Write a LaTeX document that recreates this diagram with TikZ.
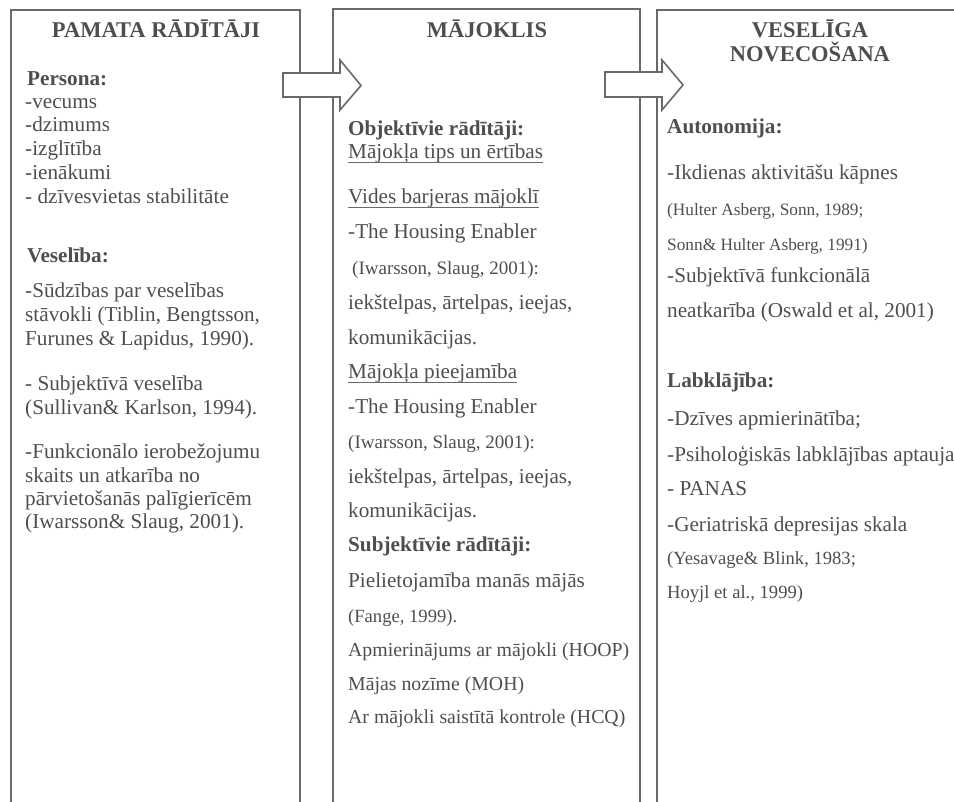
\documentclass[tikz,border=0pt]{standalone}
\usepackage{fontspec}
\setmainfont{Liberation Serif}
\begin{document}
\definecolor{ink}{RGB}{78,78,78}
\definecolor{edge}{RGB}{105,105,105}
\tikzset{
  txt/.style={anchor=base west, inner sep=0pt, text=ink, font=\fontsize{21.2}{25}\selectfont},
  txtb/.style={txt, font=\fontsize{21.2}{25}\selectfont\bfseries},
  txtl/.style={txt, font=\fontsize{19.8}{23}\selectfont},
  txtm/.style={txt, font=\fontsize{19}{22}\selectfont},
  txtf/.style={txt, font=\fontsize{18.6}{22}\selectfont},
  txts/.style={txt, font=\fontsize{17.3}{20}\selectfont},
  title/.style={anchor=base, inner sep=0pt, text=ink, font=\fontsize{22.5}{26}\selectfont\bfseries},
  frame/.style={draw=edge, line width=1.6pt},
  blockarrow/.style={draw=edge, line width=1.6pt, fill=white, line join=miter},
  uline/.style={draw=edge, line width=1.1pt}
}
\begin{tikzpicture}[x=1pt,y=1pt]
\useasboundingbox (0,0) rectangle (954,802);
% column frames (open at the bottom)
\coordinate (A-bl) at (11,0);   \coordinate (A-tl) at (11,792);
\coordinate (A-tr) at (300,792); \coordinate (A-br) at (300,0);
\coordinate (B-bl) at (333,0);  \coordinate (B-tl) at (333,793);
\coordinate (B-tr) at (640,793); \coordinate (B-br) at (640,0);
\coordinate (C-bl) at (657,0);  \coordinate (C-tl) at (657,792);
\coordinate (C-tr) at (954,792);
\draw[frame] (A-bl) -- (A-tl) -- (A-tr) -- (A-br);
\draw[frame] (B-bl) -- (B-tl) -- (B-tr) -- (B-br);
\draw[frame] (C-bl) -- (C-tl) -- (C-tr);
% block arrows
\draw[blockarrow] (283,729) -- (340,729) -- (340,742) -- (361,716.5) -- (340,692) -- (340,705) -- (283,705) -- cycle;
\draw[blockarrow] (605,730) -- (662,730) -- (662,742) -- (683,717) -- (662,692) -- (662,705) -- (605,705) -- cycle;

% ---------- left column ----------
\node[title] (tA) at (156,764) {PAMATA RĀDĪTĀJI};
\node[txtb] (a1) at (27,716) {Persona:};
\node[txt] (a2) at (25,693) {-vecums};
\node[txt] (a3) at (25,670) {-dzimums};
\node[txt] (a4) at (25,646) {-izglītība};
\node[txt] (a5) at (25,622) {-ienākumi};
\node[txt] (a6) at (25,598) {- dzīvesvietas stabilitāte};
\node[txtb] (a7) at (27,539) {Veselība:};
\node[txt] (a8) at (25,504) {-Sūdzības par veselības};
\node[txt] (a9) at (25,480) {stāvokli (Tiblin, Bengtsson,};
\node[txt] (a10) at (25,456) {Furunes \& Lapidus, 1990).};
\node[txt] (a11) at (25,411) {- Subjektīvā veselība};
\node[txt] (a12) at (25,387) {(Sullivan\& Karlson, 1994).};
\node[txt] (a13) at (25,343) {-Funkcionālo ierobežojumu};
\node[txt] (a14) at (25,319) {skaits un atkarība no};
\node[txt] (a15) at (25,296) {pārvietošanās palīgierīcēm};
\node[txt] (a16) at (25,273) {(Iwarsson\& Slaug, 2001).};

% ---------- middle column ----------
\node[title] (tB) at (487,764) {MĀJOKLIS};
\node[txtb] (b1) at (348,666) {Objektīvie rādītāji:};
\node[txt] (b2) at (348,643) {Mājokļa tips un ērtības};
\node[txt] (b3) at (348,598) {Vides barjeras mājoklī};
\node[txt] (b4) at (348,563) {-The Housing Enabler};
\node[txtm] (b5) at (352,527) {(Iwarsson, Slaug, 2001):};
\node[txt] (b6) at (348,492) {iekštelpas, ārtelpas, ieejas,};
\node[txt] (b7) at (348,457) {komunikācijas.};
\node[txt] (b8) at (348,423) {Mājokļa pieejamība};
\node[txt] (b9) at (348,388) {-The Housing Enabler};
\node[txtm] (b10) at (348,353) {(Iwarsson, Slaug, 2001):};
\node[txt] (b11) at (348,318) {iekštelpas, ārtelpas, ieejas,};
\node[txt] (b12) at (348,284) {komunikācijas.};
\node[txtb] (b13) at (348,250) {Subjektīvie rādītāji:};
\node[txt] (b14) at (348,214) {Pielietojamība manās mājās};
\node[txtf] (b15) at (348,179) {(Fange, 1999).};
\node[txtl] (b16) at (348,145) {Apmierinājums ar mājokli (HOOP)};
\node[txtl] (b17) at (348,111) {Mājas nozīme (MOH)};
\node[txtl] (b18) at (348,78) {Ar mājokli saistītā kontrole (HCQ)};
\foreach \n in {b2,b3,b8}
  \draw[uline] ([yshift=-3.5pt]\n.base west) -- ([yshift=-3.5pt]\n.base east);

% ---------- right column ----------
\node[title] (tC1) at (810,764) {VESELĪGA};
\node[title] (tC2) at (810,740) {NOVECOŠANA};
\node[txtb] (c1) at (667,668) {Autonomija:};
\node[txt] (c2) at (667,622) {-Ikdienas aktivitāšu kāpnes};
\node[txts] (c3) at (667,586) {(Hulter Asberg, Sonn, 1989;};
\node[txts] (c4) at (667,551) {Sonn\& Hulter Asberg, 1991)};
\node[txt] (c5) at (667,519) {-Subjektīvā funkcionālā};
\node[txt] (c6) at (667,484) {neatkarība (Oswald et al, 2001)};
\node[txtb] (c7) at (667,414) {Labklājība:};
\node[txt] (c8) at (667,376) {-Dzīves apmierinātība;};
\node[txt] (c9) at (667,340) {-Psiholoģiskās labklājības aptauja};
\node[txt] (c10) at (667,306) {- PANAS};
\node[txt] (c11) at (667,270) {-Geriatriskā depresijas skala};
\node[txtf] (c12) at (667,237) {(Yesavage\& Blink, 1983;};
\node[txtf] (c13) at (667,203) {Hoyjl et al., 1999)};
\end{tikzpicture}
\end{document}
